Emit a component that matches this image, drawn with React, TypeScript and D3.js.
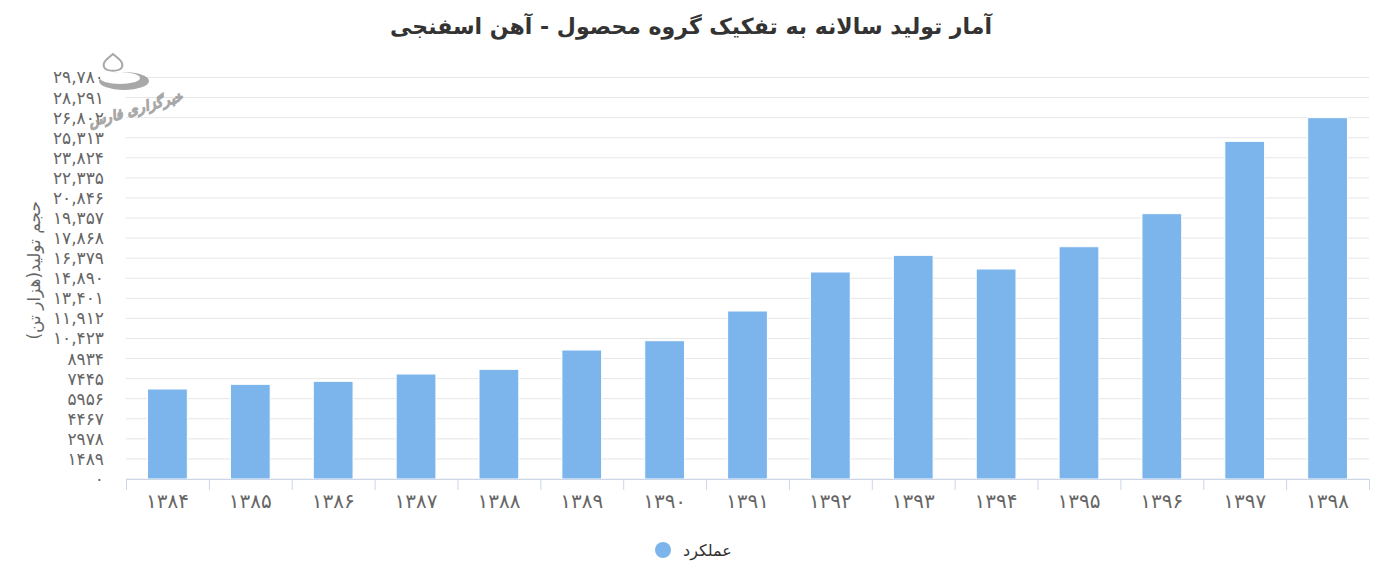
import * as d3 from 'd3';
import { useEffect } from 'react';

const years = ['1384', '1385', '1386', '1387', '1388', '1389', '1390', '1391', '1392', '1393', '1394', '1395', '1396', '1397', '1398'];
const production = [6675, 7024, 7246, 7788, 8136, 9568, 10258, 12461, 15353, 16590, 15576, 17230, 19678, 25045, 26800];
const yTicks = [0, 1489, 2978, 4467, 5956, 7445, 8934, 10423, 11912, 13401, 14890, 16379, 17868, 19357, 20846, 22335, 23824, 25313, 26802, 28291, 29780];

const title = 'آمار تولید سالانه به تفکیک گروه محصول - آهن اسفنجی';
const yTitle = 'حجم تولید(هزار تن)';
const seriesName = 'عملکرد';

const width = 1378;
const height = 584;
const margin = { top: 77.5, right: 9, bottom: 105, left: 126 };
const font = 'Vazir, "DejaVu Sans", sans-serif';

// latin digits -> persian digits, comma only above 4 digits (like highcharts)
const fa = (n: number | string) => {
  let s = String(n);
  if (typeof n === 'number' && n >= 10000) s = d3.format(',')(n);
  return s.replace(/[0-9]/g, (c) => String.fromCharCode(0x06f0 + Number(c)));
};

const App = () => {
  useEffect(() => {
    document.body.style.margin = '0';
  }, []);

  const x = d3.scaleBand()
    .domain(years)
    .range([margin.left, width - margin.right]);

  const y = d3.scaleLinear()
    .domain([0, 29780])
    .range([height - margin.bottom, margin.top]);

  const bw = x.bandwidth() * 0.6 * 0.8;
  const base = y(0);

  return (
    <svg width={width} height={height} style={{ display: 'block', fontFamily: font }}>
      <rect width={width} height={height} fill="#fff" />

      <text x={691} y={34} textAnchor="middle" fontSize={22} fill="#333333" direction="rtl" fontWeight="bold">
        {title}
      </text>

      {/* grid */}
      {yTicks.map((t) => (
        <line key={'g' + t} x1={margin.left} x2={width - margin.right} y1={y(t)} y2={y(t)} stroke="#e6e6e6" strokeWidth={1} />
      ))}

      {/* y labels */}
      {yTicks.map((t) => (
        <text key={'l' + t} x={104} y={y(t)} dy="0.35em" textAnchor="end" fontSize={17} fill="#666666">
          {fa(t)}
        </text>
      ))}

      <text
        transform={`translate(40,${(margin.top + base) / 2 - 8}) rotate(-90)`}
        textAnchor="middle"
        direction="rtl"
        fontSize={17}
        fill="#666666"
      >
        {yTitle}
      </text>

      {/* bars */}
      {years.map((yr, i) => (
        <rect
          key={yr}
          x={(x(yr) as number) + (x.bandwidth() - bw) / 2}
          y={y(production[i])}
          width={bw}
          height={base - y(production[i])}
          fill="#7cb5ec"
          stroke="#ffffff"
          strokeWidth={1}
        />
      ))}

      {/* x axis */}
      <line x1={margin.left} x2={width - margin.right} y1={base + 0.5} y2={base + 0.5} stroke="#ccd6eb" />
      {[...years.map((yr) => x(yr) as number), width - margin.right].map((px, i) => (
        <line key={'t' + i} x1={px + 0.5} x2={px + 0.5} y1={base} y2={base + 11} stroke="#ccd6eb" />
      ))}
      {years.map((yr) => (
        <text key={'x' + yr} x={(x(yr) as number) + x.bandwidth() / 2} y={508} textAnchor="middle" fontSize={20} fill="#666666">
          {fa(yr)}
        </text>
      ))}

      {/* legend */}
      <circle cx={663} cy={550} r={8} fill="#7cb5ec" />
      <text x={683} y={556} fontSize={16} fill="#333333" textAnchor="start">
        {seriesName}
      </text>

      {/* watermark */}
      <g opacity={0.85}>
        <path d="M113,54 C118,58 124,62 122,67 C120,72 106,72 104,67 C102,62 108,58 113,54 Z" fill="#fff" stroke="#999" strokeWidth={2} />
        <ellipse cx={124} cy={81} rx={25} ry={9} fill="#9a9a9a" />
        <ellipse cx={120} cy={78} rx={20} ry={6} fill="#fff" />
        <text
          x={136}
          y={114}
          textAnchor="middle"
          fontSize={14}
          fontStyle="italic"
          fontWeight="bold"
          fill="#ffffff"
          stroke="#999999"
          strokeWidth={0.9}
          transform="rotate(-16 136 110)"
        >
          خبرگزاری فارس
        </text>
      </g>
    </svg>
  );
};

export default App;
